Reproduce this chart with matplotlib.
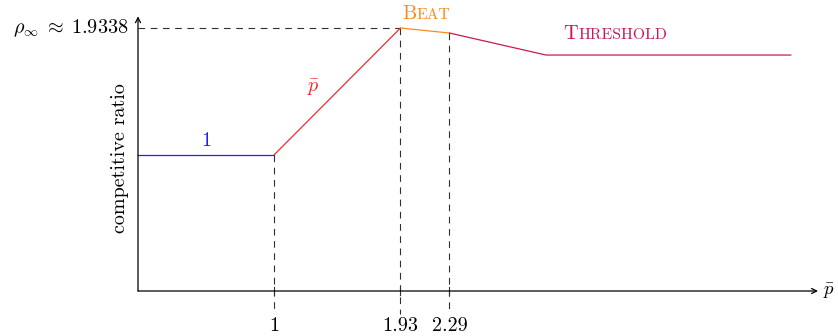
import matplotlib
matplotlib.use("Agg")
import matplotlib.pyplot as plt
from matplotlib.transforms import offset_copy

plt.rcParams['font.family'] = 'serif'
plt.rcParams['font.serif'] = ['cmr10', 'DejaVu Serif']
plt.rcParams['mathtext.fontset'] = 'cm'
plt.rcParams['axes.unicode_minus'] = False

# data
rho_inf = 1.9338
seg_one_x = [0.0, 1.0]
seg_one_y = [1.0, 1.0]
seg_p_x = [1.0, 1.93]
seg_p_y = [1.0, rho_inf]
seg_beat_x = [1.93, 2.29]
seg_beat_y = [rho_inf, 1.897]
seg_thr_x = [2.29, 3.0, 4.8]
seg_thr_y = [1.897, 1.735, 1.735]
xticks = [1.0, 1.93, 2.29]
xtick_labels = ["1", "1.93", "2.29"]

c_blue = '#2020F5'
c_red = '#F52A2A'
c_orange = '#FA8C1E'
c_thr = '#C8195A'

fig = plt.figure(figsize=(8.38, 3.36), dpi=100)
ax = fig.add_axes([0, 0, 1, 1])
ppu = 136.0
ax.set_xlim(-138 / ppu, (838 - 138) / ppu)
ax.set_ylim(-45 / ppu, 291 / ppu)
ax.axis('off')

fs = 14.5
# axes arrows
ax.annotate('', xy=(5.0, 0), xytext=(0, 0),
            arrowprops=dict(arrowstyle='->', lw=0.9, color='black', shrinkA=0, shrinkB=0,
                            mutation_scale=9))
ax.annotate('', xy=(0, 2.02), xytext=(0, 0),
            arrowprops=dict(arrowstyle='->', lw=0.9, color='black', shrinkA=0, shrinkB=0,
                            mutation_scale=9))

dash = (0, (6.0, 5.0))
dcol = '#303030'
# dashed guides
ax.plot([0, seg_p_x[1]], [rho_inf, rho_inf], color=dcol, lw=0.8, ls=dash)
for xv, yv in zip(xticks, [seg_one_y[1], rho_inf, seg_beat_y[1]]):
    ax.plot([xv, xv], [yv, -0.17], color=dcol, lw=0.8, ls=dash)
    ax.plot([xv, xv], [0.03, -0.03], color=dcol, lw=0.8)

# curves
ax.plot(seg_one_x, seg_one_y, color=c_blue, lw=0.9)
ax.plot(seg_p_x, seg_p_y, color=c_red, lw=0.9)
ax.plot(seg_beat_x, seg_beat_y, color=c_orange, lw=0.9)
ax.plot(seg_thr_x, seg_thr_y, color=c_thr, lw=0.9)

# tick labels
for xv, lab in zip(xticks, xtick_labels):
    ax.text(xv, -0.19, lab, ha='center', va='top', fontsize=fs)

ax.text(-0.07, rho_inf, r'$\rho_\infty \;\approx\; 1.9338$', ha='right', va='center', fontsize=fs)
ax.text(-0.065, 0.98, 'competitive ratio', rotation=90, ha='right', va='center', fontsize=fs)
ax.text(5.04, 0.0, r'$\bar{p}$', ha='left', va='center', fontsize=fs - 1)

ax.text(0.5, 1.04, '1', color=c_blue, ha='center', va='bottom', fontsize=fs)
ax.text(1.29, 1.42, r'$\bar{p}$', color=c_red, ha='center', va='bottom', fontsize=fs)


def smallcaps(x, y, word, color):
    t1 = ax.text(x, y, word[0], color=color, ha='left', va='baseline', fontsize=fs)
    fig.canvas.draw()
    bb = t1.get_window_extent()
    w_pts = bb.width * 72.0 / fig.dpi
    tr = offset_copy(ax.transData, fig=fig, x=w_pts, y=0, units='points')
    ax.text(x, y, word[1:].upper(), color=color, ha='left', va='baseline',
            fontsize=fs * 0.78, transform=tr)


smallcaps(1.94, 2.0, 'Beat', c_orange)
smallcaps(3.13, 1.85, 'Threshold', c_thr)

fig.savefig('out.png', dpi=100)
